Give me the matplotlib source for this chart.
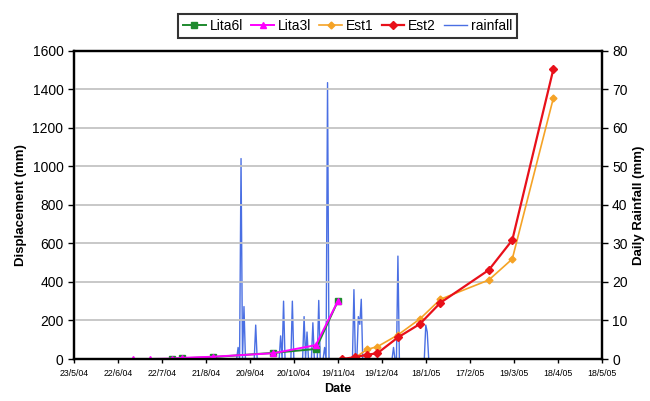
"""
Displacement of monitoring points vs daily rainfall, 2004-05
"""
import matplotlib
matplotlib.use("Agg")
import matplotlib.pyplot as plt
import pandas as pd

plt.rcParams["font.family"] = ["Liberation Sans", "DejaVu Sans"]

# displacement readings (mm)
lita6l_dates = ["2004-07-29", "2004-08-05", "2004-08-26", "2004-10-06", "2004-11-04", "2004-11-19"]
lita6l_mm = [0, 4, 10, 32, 52, 300]

lita3l_dates = ["2004-07-02", "2004-07-14", "2004-07-29", "2004-08-05", "2004-08-26",
                "2004-10-06", "2004-11-04", "2004-11-19"]
lita3l_mm = [0, 0, 2, 6, 12, 30, 72, 300]

est1_dates = ["2004-12-01", "2004-12-09", "2004-12-16", "2004-12-30", "2005-01-14",
              "2005-01-28", "2005-03-02", "2005-03-18", "2005-04-15"]
est1_mm = [8, 50, 64, 125, 208, 310, 410, 519, 1353]

est2_dates = ["2004-11-22", "2004-12-01", "2004-12-09", "2004-12-16", "2004-12-30",
              "2005-01-14", "2005-01-28", "2005-03-02", "2005-03-18", "2005-04-15"]
est2_mm = [0, 10, 22, 30, 112, 182, 292, 462, 617, 1503]

# rainy days (mm); every other day in the record had no rain
rain_first, rain_last = "2004-09-10", "2005-02-01"
rain_dates = ["2004-09-12", "2004-09-14", "2004-09-16", "2004-09-24", "2004-10-11",
              "2004-10-13", "2004-10-19", "2004-10-27", "2004-10-29", "2004-11-02",
              "2004-11-06", "2004-11-10", "2004-11-12", "2004-11-30", "2004-12-03",
              "2004-12-04", "2004-12-05", "2004-12-27", "2004-12-30", "2005-01-18",
              "2005-01-19"]
rain_mm = [3, 52, 13.6, 8.8, 6, 15, 15, 11, 7, 9.4,
           15.2, 3, 71.7, 18, 11, 9, 15.5, 3, 26.7, 8.8,
           7]

tick_labels = ["23/5/04", "22/6/04", "22/7/04", "21/8/04", "20/9/04", "20/10/04", "19/11/04",
               "19/12/04", "18/1/05", "17/2/05", "19/3/05", "18/4/05", "18/5/05"]

rain = pd.Series(rain_mm, index=pd.to_datetime(rain_dates))
rain = rain.reindex(pd.date_range(rain_first, rain_last, freq="D"), fill_value=0)

fig = plt.figure(figsize=(6.5, 4.01), dpi=100)
ax = fig.add_axes([0.1137, 0.1047, 0.812, 0.769])
ax2 = ax.twinx()

ax2.plot(rain.index, rain.values, color="#4a6fe3", lw=1.0, label="rainfall")
ax2.set_ylim(0, 80)
ax2.set_yticks(range(0, 81, 10))
ax2.set_ylabel("Daily Rainfall (mm)", fontsize=9.5, fontweight="bold")

ax.set_zorder(ax2.get_zorder() + 1)
ax.patch.set_visible(False)

ax.plot(pd.to_datetime(lita6l_dates), lita6l_mm, color="#1e8a2e", marker="s", ms=4.5, lw=1.4,
        label="Lita6l")
ax.plot(pd.to_datetime(lita3l_dates), lita3l_mm, color="#ff00ff", marker="^", ms=5, lw=1.4,
        label="Lita3l")
ax.plot(pd.to_datetime(est1_dates), est1_mm, color="#f5a326", marker="D", ms=3.5, lw=1.2,
        label="Est1")
ax.plot(pd.to_datetime(est2_dates), est2_mm, color="#e8101a", marker="D", ms=4, lw=1.6,
        label="Est2")

ax.set_ylim(0, 1600)
ax.set_yticks(range(0, 1601, 200))
ticks = pd.date_range("2004-05-23", periods=13, freq="30D")
ax.set_xlim(ticks[0], ticks[-1])
ax.set_xticks(ticks)
ax.set_xticklabels(tick_labels, fontsize=6.3)
ax.grid(axis="y", color="#c4c4c4", lw=1.3)
ax.set_axisbelow(True)
ax.set_ylabel("Displacement (mm)", fontsize=9.5, fontweight="bold")
ax.set_xlabel("Date", fontsize=9, fontweight="bold", labelpad=4)

for a in (ax, ax2):
    for s in a.spines.values():
        s.set_linewidth(1.6)
    a.tick_params(axis="y", labelsize=10, length=4, width=1)
ax.tick_params(axis="x", length=3, width=1, pad=4)

h1, l1 = ax.get_legend_handles_labels()
h2, l2 = ax2.get_legend_handles_labels()
leg = fig.legend(h1 + h2, l1 + l2, loc="upper center", bbox_to_anchor=(0.535, 0.982), ncol=5,
                 fontsize=10, frameon=True, fancybox=False, edgecolor="black",
                 handlelength=1.6, handletextpad=0.3, columnspacing=0.6, borderpad=0.35)
leg.get_frame().set_linewidth(1.5)

fig.savefig("out.png", dpi=100)
